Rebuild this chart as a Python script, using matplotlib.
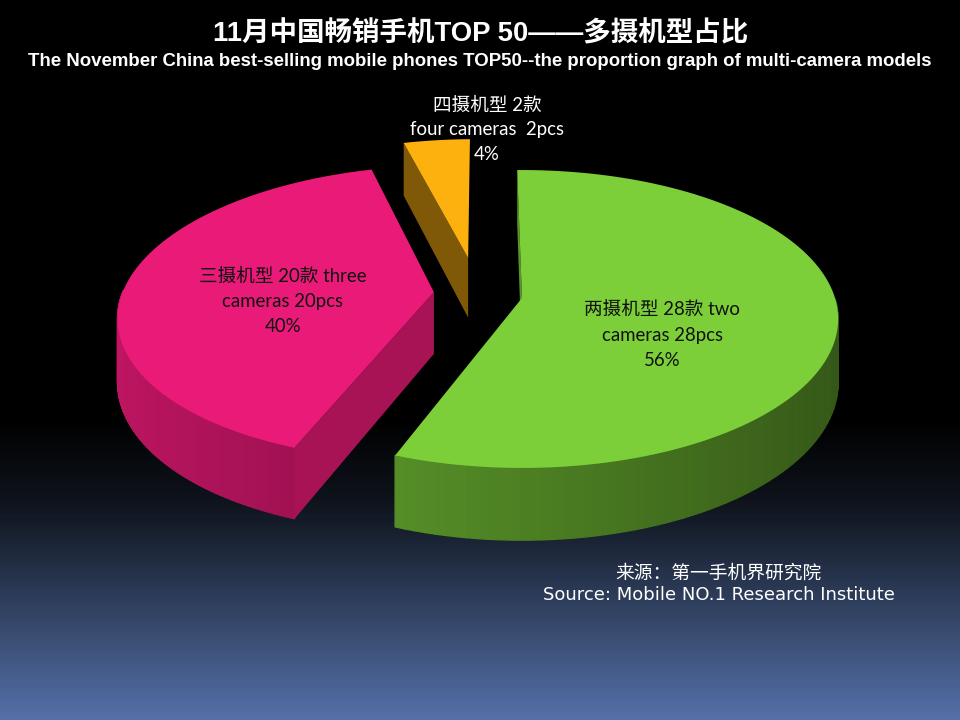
import numpy as np
import matplotlib
matplotlib.use('Agg')
import matplotlib.pyplot as plt
from matplotlib.collections import PolyCollection
from matplotlib.colors import LinearSegmentedColormap, to_rgb
from matplotlib.patches import Polygon

# chart data
models = [28, 20, 2]
top_colors = ['#7ccf38', '#ea1a78', '#fdb10f']
labels = [
    ['两摄机型 28款 two', 'cameras 28pcs', '56%'],
    ['三摄机型 20款 three', 'cameras 20pcs', '40%'],
    ['四摄机型 2款', 'four cameras  2pcs', '4%'],
]
title_cn = '11月中国畅销手机TOP 50——多摄机型占比'
title_en = 'The November China best-selling mobile phones TOP50--the proportion graph of multi-camera models'
source_cn = '来源：第一手机界研究院'
source_en = 'Source: Mobile NO.1 Research Institute'

# pie geometry in pixels: a flat disc seen in perspective
cx, cy = 522, 298
rx, ry = 313, 146
persp = 0.141
depth = 62
start_angle = -1
explode = [(0, 0), (-0.283, -0.04), (-0.179, -0.285)]
label_pos = [(662, 307, 26), (283, 274, 25.5), (487, 103, 25)]
label_colors = ['#111111', '#111111', 'white']


def project(u, v, drop=0.0):
    w = 1 - persp * v
    return cx + rx * u / w, cy + (ry * v + drop * depth) / w


def shade(color, amount):
    return tuple(c * amount for c in to_rgb(color))


fig = plt.figure(figsize=(9.6, 7.2), dpi=100)
ax = fig.add_axes([0, 0, 1, 1])
ax.set_xlim(0, 960)
ax.set_ylim(720, 0)
ax.axis('off')

# slide background
bg = LinearSegmentedColormap.from_list('bg', [
    (0.0, '#000000'), (0.58, '#000000'), (0.70, '#0f141d'),
    (0.83, '#2d3c59'), (1.0, '#5570a8')])
ax.imshow(np.linspace(0, 1, 720).reshape(-1, 1), cmap=bg, extent=(0, 960, 720, 0),
          aspect='auto', zorder=0)

angle = start_angle
total = sum(models)
for i, val in enumerate(models):
    sweep = val / total * 360
    t0, t1 = np.radians(angle), np.radians(angle + sweep)
    angle += sweep
    du, dv = explode[i]
    theta = np.linspace(t0, t1, 120 if i < 2 else 20)
    u = du + np.sin(theta)
    v = dv - np.cos(theta)
    col = top_colors[i]

    # outer rim, lit from the left
    quads = []
    cols = []
    for j in range(len(theta) - 1):
        if np.cos(theta[j]) >= 0.0:
            continue
        quads.append([project(u[j], v[j]), project(u[j + 1], v[j + 1]),
                      project(u[j + 1], v[j + 1], 1), project(u[j], v[j], 1)])
        cols.append(shade(col, 0.62 - 0.2 * np.sin(theta[j])))
    if quads:
        ax.add_collection(PolyCollection(quads, facecolors=cols, edgecolors=cols,
                                         linewidths=1.0, zorder=2))

    # flat cut faces, only those turned to the viewer
    for t, sign in ((t0, -1), (t1, 1)):
        if sign * np.sin(t) > 0:
            ou, ov = du + np.sin(t), dv - np.cos(t)
            face = [project(du, dv), project(ou, ov), project(ou, ov, 1), project(du, dv, 1)]
            ax.add_patch(Polygon(face, closed=True, facecolor=shade(col, 0.5 if i == 2 else 0.72),
                                 edgecolor='none', zorder=2))

    # top surface
    top = [project(du, dv)] + [project(a, b) for a, b in zip(u, v)]
    ax.add_patch(Polygon(top, closed=True, facecolor=col, edgecolor='none', zorder=3))

label_font = ['Lato', 'Noto Sans CJK SC']
for lines, (x, y, step), c in zip(labels, label_pos, label_colors):
    for k, line in enumerate(lines):
        ax.text(x, y + 2 + k * step, line, color=c, fontsize=13.4, ha='center', va='center',
                family=label_font, zorder=5)

title_font = ['Liberation Sans', 'Noto Sans CJK SC']
ax.text(481, 34, title_cn, color='white', fontsize=19.8, fontweight='bold', ha='center',
        va='center', family=title_font, zorder=5)
ax.text(480, 61, title_en, color='white', fontsize=13.4, fontweight='bold', ha='center',
        va='center', family=title_font, zorder=5)
ax.text(718, 573, source_cn, color='white', fontsize=13.5, ha='center', va='center',
        family=['DejaVu Sans', 'Noto Sans CJK SC'], zorder=5)
ax.text(719, 595, source_en, color='white', fontsize=13, ha='center', va='center',
        family=['DejaVu Sans', 'Noto Sans CJK SC'], zorder=5)

fig.savefig('out.png', dpi=100)
